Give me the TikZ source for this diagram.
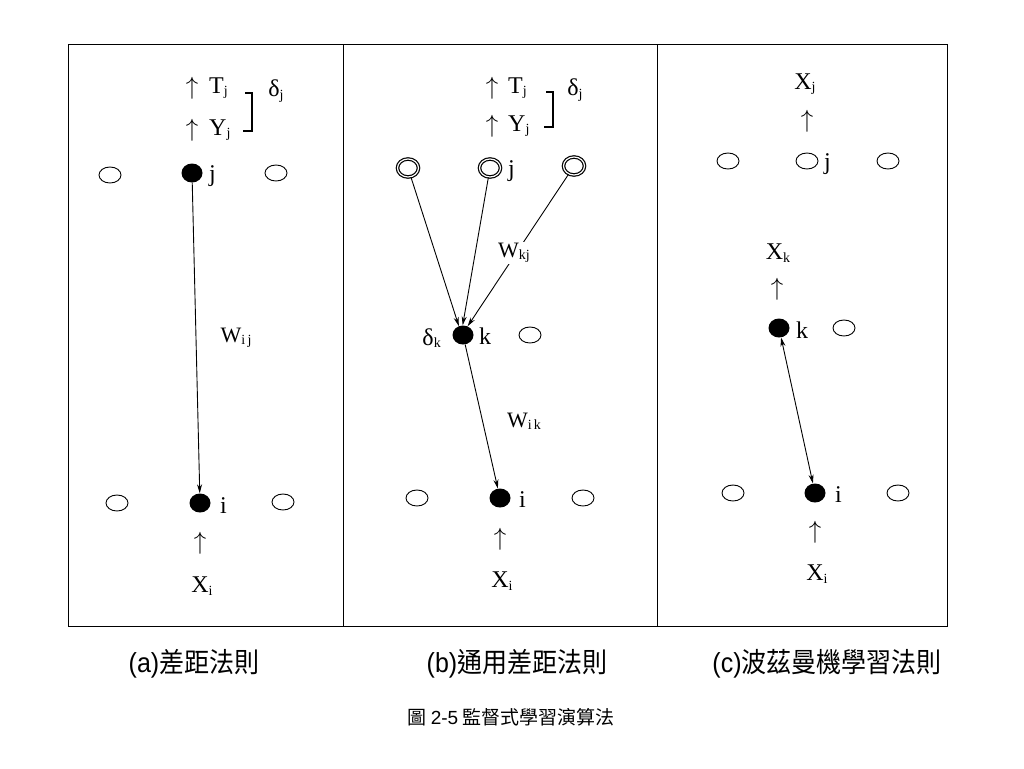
\documentclass[tikz,border=0pt]{standalone}
\usepackage{fontspec}
\newfontfamily\cjk{Noto Sans CJK TC}
\newfontfamily\latsans{Liberation Sans}
\newfontfamily\lblfont{Liberation Serif}
\usetikzlibrary{arrows.meta,shapes.geometric}
\newcommand{\sbs}[1]{\raisebox{-0.1em}{\fontsize{14}{15}\selectfont #1}}
\tikzset{
  opennode/.style={draw=black, line width=0.9pt, ellipse, minimum width=22pt, minimum height=16pt, inner sep=0pt},
  fillnode/.style={fill=black, ellipse, minimum width=21pt, minimum height=19pt, inner sep=0pt},
  ringnode/.style={draw=black, line width=1.2pt, double=white, double distance=1.2pt, ellipse, minimum width=21pt, minimum height=18pt, inner sep=0pt},
  lbl/.style={font=\lblfont\fontsize{24}{26}\selectfont, inner sep=1pt},
  wlbl/.style={font=\lblfont\fontsize{22}{24}\selectfont, inner sep=1pt},
  conn/.style={line width=0.9pt, -{Stealth[length=9pt,width=5pt]}},
  biconn/.style={line width=0.9pt, {Stealth[length=9pt,width=5pt]}-{Stealth[length=9pt,width=5pt]}},
  brk/.style={line width=1.1pt},
  captext/.style={font=\cjk\fontsize{25}{28}\selectfont, inner sep=0pt, yscale=1.1},
  subcaptext/.style={font=\cjk\fontsize{19}{22}\selectfont, inner sep=0pt},
  uparr/.style={font=\fontsize{27}{28}\selectfont, inner sep=0pt}
}
\begin{document}
\begin{tikzpicture}[x=1pt,y=-1pt]
\useasboundingbox (0,0) rectangle (1024,768);
% frame
\draw[line width=1pt] (68,45) rectangle (947,626);
\draw[line width=1pt] (343,45) -- (343,626);
\draw[line width=1pt] (657,45) -- (657,626);

% ---------- panel (a)
\node[uparr] (aTa) at (192,88) {$\uparrow$};
\node[lbl, anchor=west] (aT) at (208,88) {T\sbs{j}};
\node[uparr] (aYa) at (192,130) {$\uparrow$};
\node[lbl, anchor=west] (aY) at (208,130) {Y\sbs{j}};
\coordinate (abt1) at (245,93);
\coordinate (abt2) at (252,93);
\coordinate (abb2) at (252,131);
\coordinate (abb1) at (243,131);
\draw[brk] (abt1) -- (abt2) -- (abb2) -- (abb1);
\node[lbl] (adj) at (276,91) {δ\sbs{j}};
\node[opennode] (al1) at (110,175) {};
\node[fillnode] (aj) at (192,173) {};
\node[lbl, anchor=west] (ajl) at (208,176) {j};
\node[opennode] (ar1) at (276,173) {};
\node[opennode] (al2) at (117,503) {};
\node[fillnode] (ai) at (200,503) {};
\node[lbl, anchor=west] (ail) at (219,506) {i};
\node[opennode] (ar2) at (283,502) {};
\draw[conn] (aj) -- (ai);
\node[wlbl] (aw) at (236,338) {W\sbs{i\,j}};
\node[uparr] (aup) at (200,543) {$\uparrow$};
\node[lbl] (axi) at (202,586) {X\sbs{i}};

% ---------- panel (b)
\node[uparr] (bTa) at (492,88) {$\uparrow$};
\node[lbl, anchor=west] (bT) at (507,88) {T\sbs{j}};
\node[uparr] (bYa) at (492,126) {$\uparrow$};
\node[lbl, anchor=west] (bY) at (507,126) {Y\sbs{j}};
\coordinate (bbt1) at (546,92);
\coordinate (bbt2) at (553,92);
\coordinate (bbb2) at (553,127);
\coordinate (bbb1) at (544,127);
\draw[brk] (bbt1) -- (bbt2) -- (bbb2) -- (bbb1);
\node[lbl] (bdj) at (575,90) {δ\sbs{j}};
\node[ringnode] (bj1) at (408,168) {};
\node[ringnode] (bj2) at (490,168) {};
\node[lbl, anchor=west] (bjl) at (507,171) {j};
\node[ringnode] (bj3) at (574,166) {};
\node[fillnode] (bk) at (463,335) {};
\node[lbl, anchor=east] (bdk) at (442,338) {δ\sbs{k}};
\node[lbl, anchor=west] (bkl) at (478,336) {k};
\node[opennode] (bko) at (530,335) {};
\draw[conn] (bj1) -- (bk.115);
\draw[conn] (bj2) -- (bk.92);
\draw[conn] (bj3) -- (bk.62);
\node[wlbl, fill=white] (bw1) at (514,253) {W\sbs{kj}};
\node[opennode] (bl2) at (417,498) {};
\node[fillnode] (bi) at (500,498) {};
\node[lbl, anchor=west] (bil) at (518,500) {i};
\node[opennode] (br2) at (583,498) {};
\draw[conn] (bk) -- (bi);
\node[wlbl] (bw2) at (524,421) {W\sbs{i\,k}};
\node[uparr] (bup) at (500,539) {$\uparrow$};
\node[lbl] (bxi) at (502,581) {X\sbs{i}};

% ---------- panel (c)
\node[lbl] (cxj) at (805,84) {X\sbs{j}};
\node[uparr] (cup1) at (807,121) {$\uparrow$};
\node[opennode] (cl1) at (728,161) {};
\node[opennode] (cj) at (807,161) {};
\node[lbl, anchor=west] (cjl) at (823,164) {j};
\node[opennode] (cr1) at (888,161) {};
\node[lbl] (cxk) at (778,253) {X\sbs{k}};
\node[uparr] (cup2) at (777,289) {$\uparrow$};
\node[fillnode] (ck) at (779,328) {};
\node[lbl, anchor=west] (ckl) at (795,330) {k};
\node[opennode] (cko) at (844,328) {};
\node[opennode] (cl2) at (733,493) {};
\node[fillnode] (ci) at (815,493) {};
\node[lbl, anchor=west] (cil) at (834,495) {i};
\node[opennode] (cr2) at (898,493) {};
\draw[biconn] (ck) -- (ci);
\node[uparr] (cup3) at (815,532) {$\uparrow$};
\node[lbl] (cxi) at (817,574) {X\sbs{i}};

% ---------- captions
\node[captext] (capa) at (194,664) {{\latsans (a)}差距法則};
\node[captext] (capb) at (517,664) {{\latsans (b)}通用差距法則};
\node[captext] (capc) at (827,664) {{\latsans (c)}波茲曼機學習法則};
\node[subcaptext] (capm) at (511,717) {圖 {\latsans 2-5} 監督式學習演算法};
\end{tikzpicture}
\end{document}
